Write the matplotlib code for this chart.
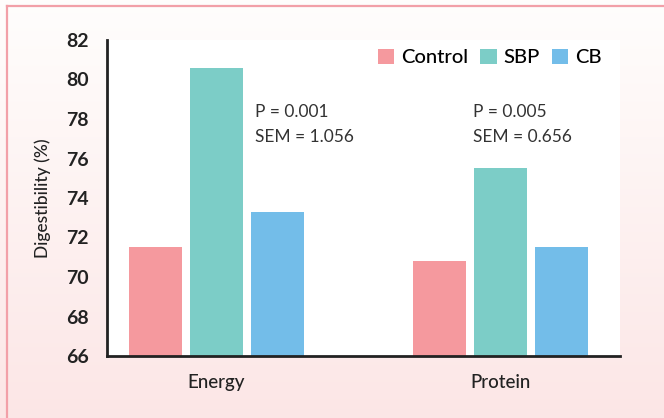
import numpy as np
import matplotlib.pyplot as plt
from matplotlib.lines import Line2D
from matplotlib.patches import Patch

plt.rcParams.update({
    "font.family": ["Lato", "DejaVu Sans"],
})

groups = ["Energy", "Protein"]
series = ["Control", "SBP", "CB"]
control = [71.5, 70.8]
sbp = [80.6, 75.5]
cb = [73.3, 71.5]
colors = ["#f5999e", "#7ccdc7", "#73bde9"]
p_notes = ["P = 0.001", "P = 0.005"]
sem_notes = ["SEM = 1.056", "SEM = 0.656"]
note_dx = [0.136, -0.095]
yticks = [66, 68, 70, 72, 74, 76, 78, 80, 82]

W, H = 664, 418
fig = plt.figure(figsize=(W / 100, H / 100), dpi=100)

# gradient background: white at top to light pink at bottom
bg = fig.add_axes([0, 0, 1, 1], zorder=-5)
grad = np.linspace(0, 1, 256).reshape(-1, 1)
top = np.array([1.0, 0.995, 0.99])
bot = np.array([0.988, 0.902, 0.902])
img = top + (bot - top) * grad[:, :, None]
bg.imshow(img, aspect="auto", extent=[0, 1, 0, 1], origin="upper")
bg.set_xlim(0, 1)
bg.set_ylim(0, 1)
bg.axis("off")

# pink frame on top and left
fig.add_artist(Line2D([7 / W, 1], [1 - 6 / H, 1 - 6 / H], color="#f2a0a8", lw=1.6))
fig.add_artist(Line2D([7 / W, 7 / W], [0, 1 - 6 / H], color="#f2a0a8", lw=1.6))

ax = fig.add_axes([107 / W, 1 - 356 / H, (620 - 107) / W, (356 - 40) / H])
ax.set_facecolor("white")

x = np.arange(len(groups))
width = 0.187
step = 0.215
for i, (vals, name, col) in enumerate(zip([control, sbp, cb], series, colors)):
    ax.bar(x + (i - 1) * step, np.array(vals) - 66, width, bottom=66,
           color=col, label=name)

for xi, dx, pn, sn in zip(x, note_dx, p_notes, sem_notes):
    ax.text(xi + dx, 78.33, pn, fontsize=12.5, color="#333333",
            va="center", ha="left")
    ax.text(xi + dx, 77.1, sn, fontsize=12.5, color="#333333",
            va="center", ha="left")

ax.set_ylim(66, 82)
ax.set_xlim(-0.386, 1.423)
ax.set_yticks(yticks)
ax.set_yticklabels([str(t) for t in yticks], fontsize=14, fontweight="bold",
                   color="#222222")
ax.set_xticks(x)
ax.set_xticklabels(groups, fontsize=13.5, color="#222222", fontweight="medium")
ax.tick_params(axis="y", length=0, pad=13)
ax.tick_params(axis="x", length=0, pad=13)
ax.set_ylabel("Digestibility (%)", fontsize=12.5, color="#222222", labelpad=11,
              fontweight="medium")

for s in ["top", "right"]:
    ax.spines[s].set_visible(False)
for s in ["left", "bottom"]:
    ax.spines[s].set_linewidth(2)
    ax.spines[s].set_color("#222222")

handles = [Patch(facecolor=c, label=n) for c, n in zip(colors, series)]
ax.legend(handles=handles, loc="upper right", bbox_to_anchor=(1.0, 1.03),
          ncol=3, frameon=False, fontsize=14.5, handlelength=0.8,
          handleheight=0.8, handletextpad=0.35, columnspacing=0.6,
          prop={"size": 14.5, "weight": "medium"})

fig.savefig("out.png", dpi=100)
